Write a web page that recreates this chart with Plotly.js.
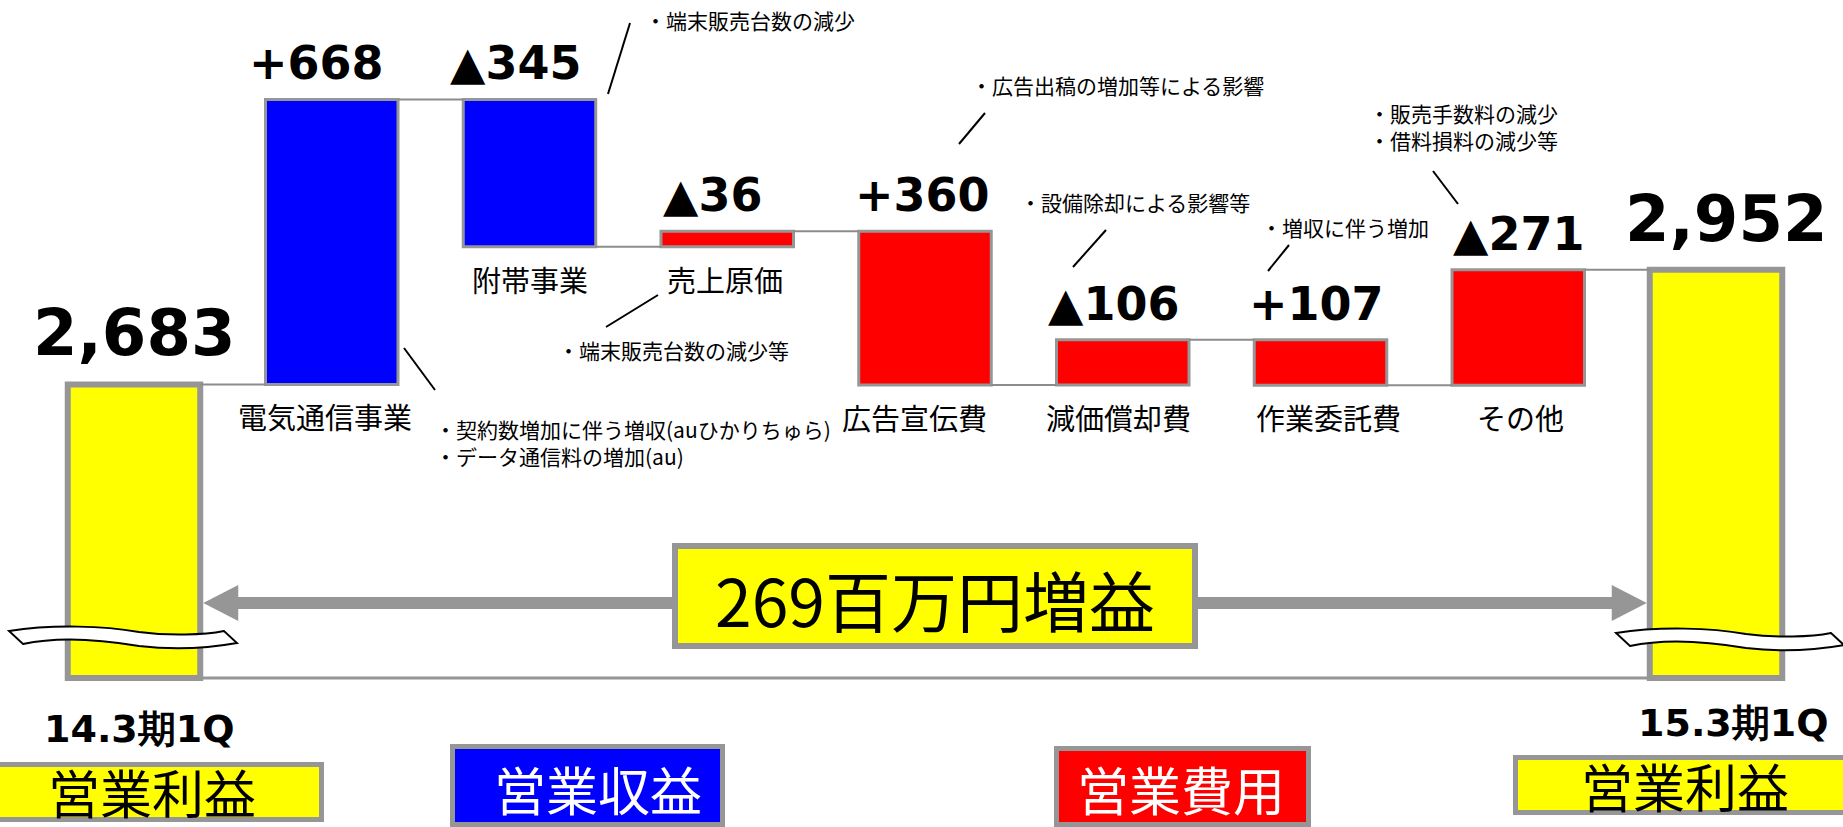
<!DOCTYPE html>
<html>
<head>
<meta charset="utf-8">
<script src="https://cdn.plot.ly/plotly-3.0.1.min.js"></script>
<style>
  html, body { margin: 0; padding: 0; background: #ffffff; }
  #chart { width: 1843px; height: 827px; }
</style>
</head>
<body>
<div id="chart"></div>
<script>
// ---------------- data ----------------
const periodLabels = ['14.3期1Q', '15.3期1Q'];
const startProfit = 2683;   // 営業利益 14.3期1Q
const endProfit = 2952;     // 営業利益 15.3期1Q
const itemNames = ['電気通信事業', '附帯事業', '売上原価', '広告宣伝費', '減価償却費', '作業委託費', 'その他'];
const itemGroups = ['営業収益', '営業収益', '営業費用', '営業費用', '営業費用', '営業費用', '営業費用'];
const itemChanges = [668, -345, -36, 360, -106, 107, -271];   // change of each line item
const itemNotes = [
  '・契約数増加に伴う増収(auひかりちゅら)<br>・データ通信料の増加(au)',
  '・端末販売台数の減少',
  '・端末販売台数の減少等',
  '・広告出稿の増加等による影響',
  '・設備除却による影響等',
  '・増収に伴う増加',
  '・販売手数料の減少<br>・借料損料の減少等'
];
const legendLabels = ['営業利益', '営業収益', '営業費用', '営業利益'];
const summaryText = '269百万円増益';

// ---------------- style / layout constants ----------------
const W = 1843, H = 827;
const X = px => px / W;
const Y = py => 1 - py / H;
const XR = [-0.6776, 8.6422];
const YR = [1645.6, 3584.2];
const FLOOR = 1995;          // bottom of the broken axis
const BAR_W = 0.67;
const YELLOW = '#FFFF00', BLUE = '#0000FF', RED = '#FF0000', GRAY = '#969696';
const groupColor = { '営業収益': BLUE, '営業費用': RED };
const JP = 'Noto Sans CJK JP';
const valueLabelXShift = [0, -15, -14, -15, -3, -9, -4, 0, 10];
const nameLabelXShift = [-7, 0, -2, -11, -4, 8, 2];

// ---------------- derived bar geometry (through data) ----------------
const effects = itemChanges.map((c, i) => itemGroups[i] === '営業収益' ? c : -c);
const xs = [], bases = [], lens = [], colors = [], lws = [], tops = [], bottoms = [], valueText = [];
const fmtTotal = v => v.toLocaleString('en-US');

xs.push(0); bases.push(FLOOR); lens.push(startProfit - FLOOR); colors.push(YELLOW); lws.push(6);
tops.push(startProfit); bottoms.push(FLOOR); valueText.push(fmtTotal(startProfit));

let level = startProfit;
const levels = [startProfit];
itemChanges.forEach((c, i) => {
  const next = level + effects[i];
  xs.push(i + 1);
  bases.push(Math.min(level, next));
  lens.push(Math.abs(effects[i]));
  colors.push(groupColor[itemGroups[i]]);
  lws.push(3);
  tops.push(Math.max(level, next));
  bottoms.push(Math.min(level, next));
  valueText.push(c > 0 ? '+' + c : '▲' + (-c));
  level = next;
  levels.push(level);
});

xs.push(8); bases.push(FLOOR); lens.push(endProfit - FLOOR); colors.push(YELLOW); lws.push(6);
tops.push(endProfit); bottoms.push(FLOOR); valueText.push(fmtTotal(endProfit));

// connectors
const cx = [], cy = [];
for (let k = 0; k < 8; k++) {
  cx.push(k + BAR_W / 2, k + 1 - BAR_W / 2, null);
  cy.push(levels[k], levels[k], null);
}

const traces = [
  {
    type: 'scatter', mode: 'lines', x: [0, 8], y: [FLOOR, FLOOR],
    line: { color: GRAY, width: 3 }, hoverinfo: 'skip', showlegend: false
  },
  {
    type: 'scatter', mode: 'lines', x: cx, y: cy,
    line: { color: '#8c8c8c', width: 2 }, hoverinfo: 'skip', showlegend: false
  },
  {
    type: 'bar', x: xs, y: lens, base: bases, width: BAR_W,
    marker: { color: colors, line: { color: GRAY, width: lws } },
    hoverinfo: 'skip', showlegend: false
  }
];

// ---------------- annotations ----------------
const annotations = [];
const xToPx = v => (v - XR[0]) / (XR[1] - XR[0]) * W;

// value labels
valueText.forEach((t, i) => {
  const total = (i === 0 || i === 8);
  annotations.push({
    xref: 'x', yref: 'y', x: xs[i], y: tops[i], yanchor: 'middle', xanchor: 'center',
    yshift: total ? 51 : 36, xshift: valueLabelXShift[i], showarrow: false, text: t,
    font: { family: 'DejaVu Sans', weight: 'bold', size: total ? 64 : 46, color: '#000' }
  });
});

// item category labels
itemNames.forEach((n, i) => {
  annotations.push({
    xref: 'x', yref: 'y', x: i + 1, y: bottoms[i + 1], yanchor: 'middle', xanchor: 'center',
    yshift: -32, xshift: nameLabelXShift[i], showarrow: false, text: n,
    font: { family: JP, size: 29, color: '#000' }
  });
});

// period labels
annotations.push({
  xref: 'x', yref: 'paper', x: 0, y: Y(729), xshift: 5, xanchor: 'center', yanchor: 'middle',
  showarrow: false, text: periodLabels[0],
  font: { family: 'DejaVu Sans', weight: 'bold', size: 38, color: '#000' }
});
annotations.push({
  xref: 'x', yref: 'paper', x: 8, y: Y(723), xshift: 17, xanchor: 'center', yanchor: 'middle',
  showarrow: false, text: periodLabels[1],
  font: { family: 'DejaVu Sans', weight: 'bold', size: 38, color: '#000' }
});

// notes (callouts)
const notePos = [ [433, 442], [643, 20], [556, 350], [969, 85], [1018, 202], [1259, 227], [1367, 126] ];
const noteLines = [ [404, 348, 435, 390], [608, 94, 630, 23], [606, 327, 658, 295], [959, 144, 985, 113],
                    [1073, 267, 1106, 230], [1268, 271, 1289, 245], [1433, 171, 1458, 204] ];
itemNotes.forEach((t, i) => {
  annotations.push({
    xref: 'paper', yref: 'paper', x: X(notePos[i][0]), y: Y(notePos[i][1]),
    xanchor: 'left', yanchor: 'middle', align: 'left', showarrow: false, text: t,
    font: { family: JP, size: 21, color: '#000' }
  });
});

// summary text
annotations.push({
  xref: 'paper', yref: 'paper', x: X(935), y: Y(598), xanchor: 'center', yanchor: 'middle',
  showarrow: false, text: summaryText, font: { family: JP, size: 66, color: '#000' }
});

// legend boxes
const legendBoxes = [
  { r: [-3, 321.5, 764.5, 819.5], fill: YELLOW, tc: '#000', t: [152, 791] },
  { r: [452.5, 722.5, 746.5, 824.5], fill: BLUE, tc: '#fff', t: [598, 788] },
  { r: [1056.5, 1308.5, 748.5, 824.5], fill: RED, tc: '#fff', t: [1181, 788] },
  { r: [1515.5, 1850, 757.5, 812.5], fill: YELLOW, tc: '#000', t: [1685, 785] }
];

const shapes = [];

// double arrow
{
  const L = xToPx(BAR_W / 2) + 3, R = xToPx(8 - BAR_W / 2) - 3, yc = 603, hs = 6, hh = 18, hl = 35;
  const p = (x, y) => X(x) + ',' + Y(y);
  const path = 'M' + p(L, yc) + 'L' + p(L + hl, yc - hh) + 'L' + p(L + hl, yc - hs) + 'L' + p(R - hl, yc - hs) +
    'L' + p(R - hl, yc - hh) + 'L' + p(R, yc) + 'L' + p(R - hl, yc + hh) + 'L' + p(R - hl, yc + hs) +
    'L' + p(L + hl, yc + hs) + 'L' + p(L + hl, yc + hh) + 'Z';
  shapes.push({ type: 'path', xref: 'paper', yref: 'paper', path: path, fillcolor: GRAY, line: { width: 0 } });
}
// summary box
shapes.push({ type: 'rect', xref: 'paper', yref: 'paper', x0: X(675), x1: X(1195), y0: Y(546), y1: Y(646),
  fillcolor: YELLOW, line: { color: GRAY, width: 6 } });

// axis-break waves
function wave(ox, oy) {
  const p = (x, y) => X(ox + x) + ',' + Y(oy + y);
  return 'M' + p(0, 0) +
    'C' + p(45, -7) + ' ' + p(95, -5) + ' ' + p(130, 1) +
    'C' + p(160, 5) + ' ' + p(195, 4) + ' ' + p(215, 0) +
    'L' + p(228, 12) +
    'C' + p(200, 17) + ' ' + p(165, 19) + ' ' + p(130, 15) +
    'C' + p(95, 9) + ' ' + p(50, 5) + ' ' + p(14, 13) + 'Z';
}
shapes.push({ type: 'path', xref: 'paper', yref: 'paper', path: wave(9, 631), fillcolor: '#ffffff', line: { color: '#000', width: 2 } });
shapes.push({ type: 'path', xref: 'paper', yref: 'paper', path: wave(1616, 633), fillcolor: '#ffffff', line: { color: '#000', width: 2 } });

// note leader lines
noteLines.forEach(l => {
  shapes.push({ type: 'line', xref: 'paper', yref: 'paper', x0: X(l[0]), y0: Y(l[1]), x1: X(l[2]), y1: Y(l[3]),
    line: { color: '#000', width: 2 } });
});

// legend boxes + text
legendBoxes.forEach((b, i) => {
  shapes.push({ type: 'rect', xref: 'paper', yref: 'paper', x0: X(b.r[0]), x1: X(b.r[1]), y0: Y(b.r[2]), y1: Y(b.r[3]),
    fillcolor: b.fill, line: { color: GRAY, width: 5 } });
  annotations.push({ xref: 'paper', yref: 'paper', x: X(b.t[0]), y: Y(b.t[1]), xanchor: 'center', yanchor: 'middle',
    showarrow: false, text: legendLabels[i], font: { family: JP, size: 52, color: b.tc } });
});

const layout = {
  width: W, height: H,
  margin: { l: 0, r: 0, t: 0, b: 0, pad: 0 },
  paper_bgcolor: '#ffffff', plot_bgcolor: '#ffffff',
  font: { family: JP, color: '#000' },
  showlegend: false,
  bargap: 0,
  xaxis: { range: XR, visible: false, fixedrange: true },
  yaxis: { range: YR, visible: false, fixedrange: true },
  shapes: shapes,
  annotations: annotations
};

Plotly.newPlot('chart', traces, layout, { displayModeBar: false, staticPlot: true });
</script>
</body>
</html>
